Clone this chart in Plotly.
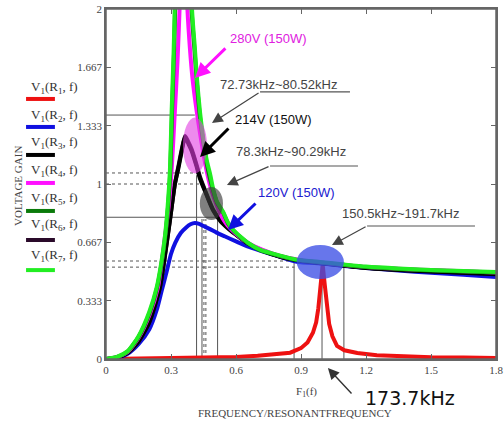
import plotly.graph_objects as go

# ---------------- data ----------------
series_labels = ["V<sub>1</sub>(R<sub>1</sub>, f)", "V<sub>1</sub>(R<sub>2</sub>, f)",
                 "V<sub>1</sub>(R<sub>3</sub>, f)", "V<sub>1</sub>(R<sub>4</sub>, f)",
                 "V<sub>1</sub>(R<sub>5</sub>, f)", "V<sub>1</sub>(R<sub>6</sub>, f)",
                 "V<sub>1</sub>(R<sub>7</sub>, f)"]

freq_R1 = [0, 0.05, 0.2, 0.4, 0.6, 0.7, 0.8, 0.85, 0.9, 0.93, 0.955, 0.97, 0.98, 0.99, 1.0,
           1.01, 1.02, 1.03, 1.045, 1.066, 1.1, 1.16, 1.25, 1.37, 1.5, 1.65, 1.8]
gain_R1 = [0, 0.001, 0.003, 0.006, 0.012, 0.018, 0.028, 0.036, 0.062, 0.095, 0.15, 0.21, 0.29, 0.42, 0.54,
           0.42, 0.29, 0.2, 0.13, 0.075, 0.05, 0.034, 0.022, 0.014, 0.01, 0.008, 0.006]

freq_R2 = [0, 0.05, 0.1, 0.15, 0.2, 0.234, 0.257, 0.28, 0.3, 0.32, 0.345, 0.37, 0.39, 0.41, 0.43, 0.45,
           0.48, 0.51, 0.55, 0.6, 0.66, 0.743, 0.8, 0.88, 1.0, 1.1, 1.2, 1.35, 1.5, 1.65, 1.8]
gain_R2 = [0, 0.006, 0.03, 0.085, 0.17, 0.28, 0.39, 0.5, 0.6, 0.665, 0.72, 0.752, 0.77, 0.777, 0.772, 0.76,
           0.742, 0.722, 0.7, 0.672, 0.64, 0.606, 0.585, 0.556, 0.545, 0.532, 0.52, 0.505, 0.493, 0.481, 0.469]

freq_R3 = [0, 0.05, 0.1, 0.15, 0.2, 0.249, 0.27, 0.295, 0.318, 0.334, 0.35, 0.365, 0.38, 0.395, 0.418,
           0.434, 0.46, 0.494, 0.53, 0.558, 0.6, 0.66, 0.72, 0.8, 0.9, 1.0, 1.2, 1.5, 1.8]
gain_R3 = [0, 0.008, 0.035, 0.1, 0.21, 0.41, 0.57, 0.79, 1.0, 1.09, 1.19, 1.27, 1.23, 1.19, 1.1,
           1.03, 0.95, 0.85, 0.785, 0.752, 0.71, 0.655, 0.62, 0.585, 0.56, 0.546, 0.52, 0.5, 0.485]

freq_R4 = [0, 0.05, 0.1, 0.15, 0.2, 0.24, 0.272, 0.29, 0.303, 0.318, 0.33, 0.341, 0.357, 0.374, 0.387,
           0.4, 0.418, 0.434, 0.45, 0.466, 0.49, 0.512, 0.54, 0.56, 0.6, 0.66, 0.72, 0.8, 0.9, 1.0, 1.2, 1.5, 1.8]
gain_R4 = [0, 0.01, 0.04, 0.12, 0.25, 0.41, 0.7, 0.88, 1.08, 1.42, 1.7, 2.05, 3.0, 2.05, 1.78,
           1.594, 1.42, 1.29, 1.17, 1.065, 0.95, 0.875, 0.8, 0.765, 0.715, 0.66, 0.625, 0.59, 0.565, 0.55, 0.526, 0.508, 0.495]

freq_R5 = [0, 0.05, 0.1, 0.15, 0.2, 0.236, 0.257, 0.274, 0.287, 0.297, 0.305, 0.314, 0.32, 0.34, 0.36,
           0.38, 0.395, 0.41, 0.42, 0.434, 0.45, 0.466, 0.48, 0.495, 0.512, 0.541, 0.563, 0.586, 0.62,
           0.66, 0.71, 0.8, 0.88, 1.0, 1.1, 1.2, 1.35, 1.5, 1.65, 1.8]
gain_R5 = [0, 0.011, 0.043, 0.125, 0.26, 0.41, 0.55, 0.7, 0.88, 1.08, 1.42, 1.75, 2.05, 3.1, 3.5,
           2.9, 2.0, 1.74, 1.57, 1.38, 1.23, 1.11, 1.03, 0.96, 0.895, 0.835, 0.775, 0.737, 0.697,
           0.657, 0.622, 0.589, 0.565, 0.55, 0.537, 0.525, 0.514, 0.506, 0.5, 0.494]

freq_R6 = [0, 0.05, 0.1, 0.15, 0.2, 0.249, 0.27, 0.295, 0.318, 0.334, 0.35, 0.365, 0.38, 0.395, 0.418,
           0.434, 0.46, 0.494, 0.53, 0.558, 0.6, 0.66, 0.72, 0.8, 0.9, 1.0, 1.2, 1.5, 1.8]
gain_R6 = [0, 0.008, 0.036, 0.1, 0.212, 0.41, 0.575, 0.795, 1.0, 1.1, 1.2, 1.275, 1.24, 1.2, 1.11,
           1.04, 0.955, 0.855, 0.79, 0.755, 0.712, 0.657, 0.622, 0.587, 0.562, 0.548, 0.522, 0.502, 0.487]

freq_R7 = [0, 0.05, 0.1, 0.15, 0.2, 0.234, 0.255, 0.272, 0.285, 0.295, 0.303, 0.312, 0.318, 0.34, 0.36,
           0.38, 0.397, 0.41, 0.42, 0.434, 0.45, 0.466, 0.48, 0.495, 0.512, 0.541, 0.563, 0.586, 0.62,
           0.66, 0.71, 0.8, 0.88, 1.0, 1.1, 1.2, 1.35, 1.5, 1.65, 1.8]
gain_R7 = [0, 0.012, 0.045, 0.13, 0.27, 0.41, 0.55, 0.7, 0.88, 1.08, 1.42, 1.75, 2.05, 3.2, 3.6,
           3.0, 2.0, 1.78, 1.6, 1.41, 1.25, 1.13, 1.06, 0.97, 0.9, 0.84, 0.78, 0.74, 0.7,
           0.66, 0.625, 0.592, 0.568, 0.553, 0.54, 0.528, 0.517, 0.509, 0.503, 0.497]

x_tick_vals = [0, 0.3, 0.6, 0.9, 1.2, 1.5, 1.8]
x_tick_text = ["0", "0.3", "0.6", "0.9", "1.2", "1.5", "1.8"]
y_tick_vals = [0, 0.333, 0.667, 1.0, 1.333, 1.667, 2.0]
y_tick_text = ["0", "0.333", "0.667", "1", "1.333", "1.667", "2"]

# trace markers (Mathcad style horizontal / vertical read-out lines)
hmark_gain = [1.394, 1.063, 1.0, 0.81, 0.56, 0.525]
hmark_end = [0.41, 0.45, 0.44, 0.55, 0.87, 0.87]
vmark_freq = [0.418, 0.443, 0.452, 0.461, 0.515, 0.868, 0.997, 1.098]
vmark_top = [1.05, 0.8, 0.8, 0.8, 0.83, 0.57, 0.53, 0.55]

# highlighted operating regions (f range, gain range)
region_f = [(0.355, 0.466), (0.433, 0.54), (0.88, 1.098)]
region_g = [(1.06, 1.38), (0.794, 0.983), (0.457, 0.651)]

# ---------------- styling ----------------
colors = ["#ee1111", "#1010e0", "#000000", "#ff10ff", "#0a7a0a", "#2a0a2a", "#22ee22"]
order = [0, 1, 5, 2, 3, 4, 6]
freqs = [freq_R1, freq_R2, freq_R3, freq_R4, freq_R5, freq_R6, freq_R7]
gains = [gain_R1, gain_R2, gain_R3, gain_R4, gain_R5, gain_R6, gain_R7]

fig = go.Figure()
for i in order:
    fig.add_trace(go.Scatter(
        x=freqs[i], y=gains[i], mode="lines", name=series_labels[i],
        line=dict(color=colors[i], width=4,
                  shape="linear" if i == 0 else "spline", smoothing=0.6),
        showlegend=False, hoverinfo="skip"))

shapes = []
h_dash = ["solid", "dot", "dot", "solid", "dot", "dot"]
for g, e, d in zip(hmark_gain, hmark_end, h_dash):
    shapes.append(dict(type="line", xref="x", yref="y", x0=0, x1=e, y0=g, y1=g,
                       line=dict(color="#555555", width=1, dash=d), layer="below"))
v_dash = ["solid", "solid", "dot", "dot", "solid", "solid", "solid", "solid"]
for f, t, d in zip(vmark_freq, vmark_top, v_dash):
    shapes.append(dict(type="line", xref="x", yref="y", x0=f, x1=f, y0=0, y1=t,
                       line=dict(color="#555555", width=1, dash=d), layer="below"))

region_colors = ["rgba(225,60,225,0.6)", "rgba(60,60,60,0.65)", "rgba(60,80,230,0.78)"]
for (fa, fb), (ga, gb), c in zip(region_f, region_g, region_colors):
    shapes.append(dict(type="circle", xref="x", yref="y", x0=fa, x1=fb, y0=ga, y1=gb,
                       fillcolor=c, line=dict(width=0), layer="above"))

# underline leaders of the frequency-range labels
leaders = [(0.711, 1.126, 1.526), (0.757, 1.163, 1.103), (1.205, 1.703, 0.76)]
for xa, xb, y in leaders:
    shapes.append(dict(type="line", xref="x", yref="y", x0=xa, x1=xb, y0=y, y1=y,
                       line=dict(color="#555555", width=1.2)))

# legend samples
leg_line_y = [0.743, 0.663, 0.583, 0.503, 0.423, 0.340, 0.254]
leg_text_y = [0.777, 0.697, 0.620, 0.540, 0.460, 0.383, 0.297]
for i in range(7):
    shapes.append(dict(type="line", xref="paper", yref="paper", x0=-0.205, x1=-0.131,
                       y0=leg_line_y[i], y1=leg_line_y[i],
                       line=dict(color=colors[i], width=4)))

ann = []
for i in range(7):
    ann.append(dict(xref="paper", yref="paper", x=-0.132, y=leg_text_y[i], text=series_labels[i],
                    showarrow=False, xanchor="center", yanchor="middle",
                    font=dict(family="Liberation Serif", size=13, color="#333333")))

sans = "Liberation Sans"
texts = [
    ("280V (150W)", 0.752, 1.834, "#e020e0"),
    ("72.73kHz~80.52kHz", 0.798, 1.571, "#444444"),
    ("214V (150W)", 0.775, 1.366, "#111111"),
    ("78.3kHz~90.29kHz", 0.854, 1.183, "#444444"),
    ("120V (150W)", 0.877, 0.954, "#2020d0"),
    ("150.5kHz~191.7kHz", 1.361, 0.834, "#444444"),
]
for t, x, y, c in texts:
    ann.append(dict(xref="x", yref="y", x=x, y=y, text=t, showarrow=False,
                    xanchor="center", yanchor="middle", font=dict(family=sans, size=13, color=c)))

# resonant-frequency label below the axis (paper coordinates so it is not hidden)
ann.append(dict(xref="paper", yref="paper", x=0.779, y=-0.111, text="173.7kHz", showarrow=False,
                xanchor="center", yanchor="middle",
                font=dict(family="DejaVu Sans", size=19, color="#111111")))
ann.append(dict(xref="paper", yref="paper", x=0.569, y=-0.026, ax=25, ay=27,
                text="", showarrow=True, arrowhead=2, arrowsize=1.6, arrowwidth=1.4,
                arrowcolor="#333333"))

arrows = [
    # head_x, head_y, tail_x, tail_y, color, width, size
    (0.411, 1.606, 0.558, 1.783, "#ff10ff", 3, 1.0),
    (0.489, 1.349, 0.711, 1.526, "#444444", 1.2, 1.8),
    (0.434, 1.154, 0.572, 1.326, "#000000", 3, 1.0),
    (0.558, 0.994, 0.757, 1.103, "#444444", 1.2, 1.8),
    (0.563, 0.737, 0.697, 0.897, "#1010e0", 3, 1.0),
    (1.043, 0.651, 1.205, 0.76, "#444444", 1.2, 1.8),
]
for hx, hy, tx, ty, c, w, s in arrows:
    ann.append(dict(xref="x", yref="y", axref="x", ayref="y", x=hx, y=hy, ax=tx, ay=ty,
                    text="", showarrow=True, arrowhead=2, arrowsize=s, arrowwidth=w,
                    arrowcolor=c))

ann.append(dict(xref="paper", yref="paper", x=0.515, y=-0.094, text="F<sub>1</sub>(f)",
                showarrow=False, xanchor="center", yanchor="middle",
                font=dict(family="Liberation Serif", size=11, color="#444444")))
ann.append(dict(xref="paper", yref="paper", x=0.485, y=-0.154, text="FREQUENCY/RESONANTFREQUENCY",
                showarrow=False, xanchor="center", yanchor="middle",
                font=dict(family="Liberation Serif", size=11, color="#444444")))
ann.append(dict(xref="paper", yref="paper", x=-0.226, y=0.494, text="VOLTAGE GAIN",
                showarrow=False, xanchor="center", yanchor="middle", textangle=-90,
                font=dict(family="Liberation Serif", size=11, color="#444444")))

# plot frame (Mathcad style box)
shapes.append(dict(type="rect", xref="paper", yref="paper", x0=0, x1=1, y0=0, y1=1,
                   line=dict(color="#666666", width=1.5), layer="above"))

axis_common = dict(showline=True, linecolor="#666666", linewidth=1.5, mirror="ticks",
                   ticks="inside", ticklen=5, tickcolor="#666666", tickwidth=1,
                   showgrid=False, zeroline=False, automargin=False,
                   tickfont=dict(family="Liberation Serif", size=11, color="#444444"))

fig.update_layout(
    width=504, height=426, autosize=False,
    margin=dict(l=106, r=8, t=9, b=67),
    paper_bgcolor="white", plot_bgcolor="white",
    xaxis=dict(range=[0, 1.8], tickvals=x_tick_vals, ticktext=x_tick_text, **axis_common),
    yaxis=dict(range=[0, 2], tickvals=y_tick_vals, ticktext=y_tick_text, **axis_common),
    shapes=shapes, annotations=ann, showlegend=False,
)

fig.write_html("out.html", config={"displayModeBar": False},
               post_script="document.body.style.margin='0';document.body.style.overflow='hidden';")
